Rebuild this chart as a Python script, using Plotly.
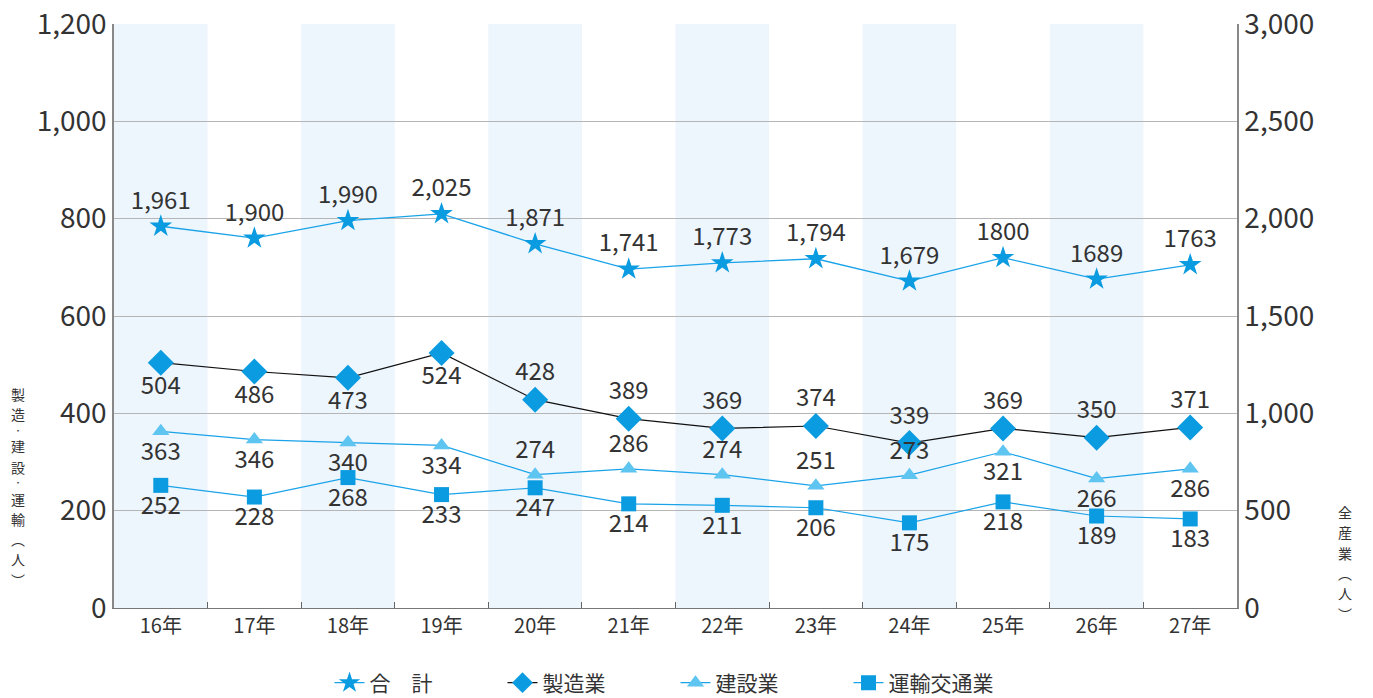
import plotly.graph_objects as go

years = ["16年", "17年", "18年", "19年", "20年", "21年", "22年", "23年", "24年", "25年", "26年", "27年"]
total = [1961, 1900, 1990, 2025, 1871, 1741, 1773, 1794, 1679, 1800, 1689, 1763]
total_text = ["1,961", "1,900", "1,990", "2,025", "1,871", "1,741", "1,773", "1,794", "1,679", "1800", "1689", "1763"]
manuf = [504, 486, 473, 524, 428, 389, 369, 374, 339, 369, 350, 371]
manuf_pos = ["bottom center"] * 4 + ["top center"] * 8
constr = [363, 346, 340, 334, 274, 286, 274, 251, 273, 321, 266, 286]
constr_pos = ["bottom center"] * 4 + ["top center"] * 5 + ["bottom center"] * 3
transp = [252, 228, 268, 233, 247, 214, 211, 206, 175, 218, 189, 183]

FONT = "Noto Sans CJK JP"
TXT = "#333333"
BLUE = "#0a9be0"
LIGHT = "#5ec4f0"
LINE = "#1aa3e8"
lab_font = dict(family=FONT, size=24, color=TXT)

L, R, T, B = 114, 136, 24, 90
W, H = 1373, 698
PW, PH = W - L - R, H - T - B

fig = go.Figure()

# shaded category bands
for i in range(0, len(years), 2):
    fig.add_vrect(x0=i - 0.5, x1=i + 0.5, fillcolor="#edf5fd", line_width=0, layer="below")

fig.add_trace(go.Scatter(x=years, y=total, name="合　計", yaxis="y2", mode="lines+markers+text",
                         line=dict(color=LINE, width=1.3), marker=dict(symbol="star", size=17, color=BLUE),
                         text=total_text, textposition="top center", textfont=lab_font, cliponaxis=False))
fig.add_trace(go.Scatter(x=years, y=manuf, name="製造業", mode="lines+markers+text",
                         line=dict(color="#111111", width=1.2), marker=dict(symbol="diamond", size=20, color=BLUE),
                         text=[str(v) for v in manuf], textposition=manuf_pos, textfont=lab_font, cliponaxis=False))
fig.add_trace(go.Scatter(x=years, y=constr, name="建設業", mode="lines+markers+text",
                         line=dict(color=LINE, width=1.2), marker=dict(symbol="triangle-up", size=15, color=LIGHT),
                         text=[str(v) for v in constr], textposition=constr_pos, textfont=lab_font, cliponaxis=False))
fig.add_trace(go.Scatter(x=years, y=transp, name="運輸交通業", mode="lines+markers+text",
                         line=dict(color=LINE, width=1.2), marker=dict(symbol="square", size=15, color=BLUE),
                         text=[str(v) for v in transp], textposition="bottom center", textfont=lab_font, cliponaxis=False))

fig.update_layout(
    width=W, height=H,
    margin=dict(l=L, r=R, t=T, b=B, autoexpand=False),
    paper_bgcolor="white", plot_bgcolor="white",
    font=dict(family=FONT, color=TXT),
    showlegend=True,
    legend=dict(orientation="h", x=0.5, xanchor="center", y=-75 / PH, yanchor="middle",
                font=dict(family=FONT, size=21, color=TXT), traceorder="normal", entrywidth=128),
    xaxis=dict(range=[-0.5, 11.5], showgrid=False, ticks="inside", tickson="boundaries", ticklen=6,
               tickcolor="#666666", tickfont=dict(size=20, color=TXT, family=FONT),
               showline=True, linecolor="#777777", linewidth=1.2),
    yaxis=dict(range=[0, 1200], dtick=200, tickformat=",d", showgrid=True, gridcolor="#b5b5b5", gridwidth=1,
               tickfont=dict(size=28, color=TXT, family=FONT), showline=True, linecolor="#888888", linewidth=1.5,
               zeroline=False, ticks=""),
    yaxis2=dict(range=[0, 3000], dtick=500, tickformat=",d", overlaying="y", side="right", showgrid=False,
                tickfont=dict(size=28, color=TXT, family=FONT), showline=True, linecolor="#888888", linewidth=1.5,
                zeroline=False, ticks=""),
)

def vertical_title(chars, xpx, ytop, size=14, dot_size=8):
    y = ytop
    for c in chars:
        s = dot_size if c == "・" else size
        h = s * 1.45
        fig.add_annotation(text=c, xref="paper", yref="paper",
                           x=(xpx - L) / PW, y=(H - B - (y + h / 2)) / PH,
                           showarrow=False, font=dict(family=FONT, size=s, color=TXT),
                           xanchor="center", yanchor="middle")
        y += h

vertical_title(["製", "造", "・", "建", "設", "・", "運", "輸", "︵", "人", "︶"], 18, 384)
vertical_title(["全", "産", "業", "︵", "人", "︶"], 1345, 502)

fig.write_html("out.html", config={"displayModeBar": False})
with open("out.html", encoding="utf-8") as f:
    html = f.read()
html = html.replace("<body>", '<body style="margin:0;overflow:hidden">', 1)
with open("out.html", "w", encoding="utf-8") as f:
    f.write(html)
